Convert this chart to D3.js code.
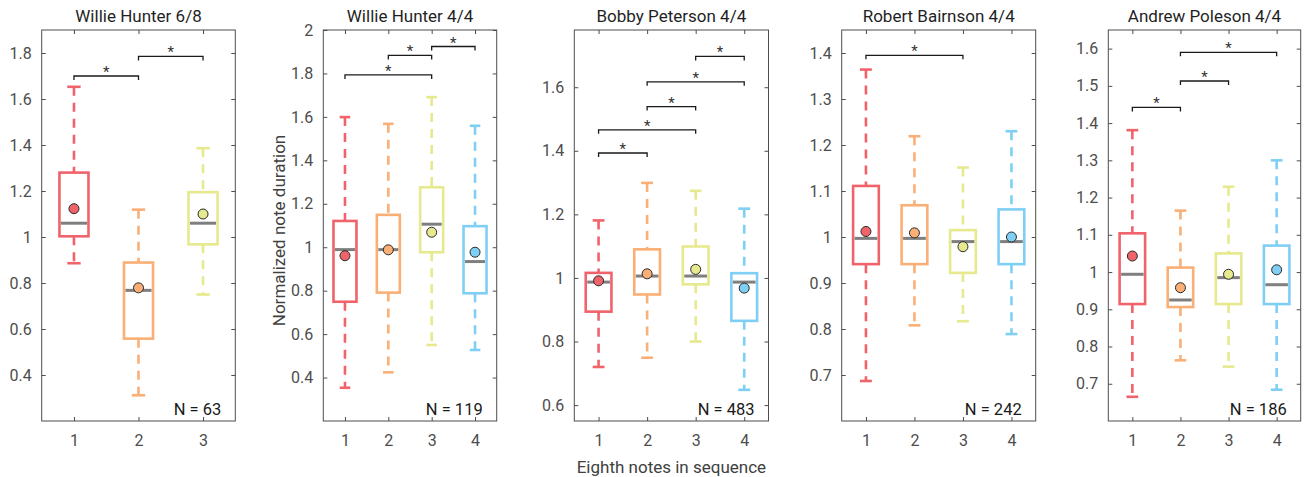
<!DOCTYPE html>
<html>
<head>
<meta charset="utf-8">
<script src="https://cdn.jsdelivr.net/npm/d3@7"></script>
<style>
  html, body { margin: 0; padding: 0; background: #ffffff; }
  svg { display: block; }
  text { font-family: Roboto, "Open Sans", sans-serif; }
</style>
</head>
<body>
<svg id="chart" width="1305" height="477"></svg>
<script>
// ---------------- DATA ----------------
const titles = ["Willie Hunter 6/8", "Willie Hunter 4/4", "Bobby Peterson 4/4", "Robert Bairnson 4/4", "Andrew Poleson 4/4"];
const nCounts = [63, 119, 483, 242, 186];
const categories = [[1, 2, 3], [1, 2, 3, 4], [1, 2, 3, 4], [1, 2, 3, 4], [1, 2, 3, 4]];
const yDomains = [[0.2, 1.9], [0.2, 2.0], [0.55, 1.78], [0.6, 1.45], [0.6, 1.65]];
const yTickValues = [
  [0.4, 0.6, 0.8, 1.0, 1.2, 1.4, 1.6, 1.8],
  [0.4, 0.6, 0.8, 1.0, 1.2, 1.4, 1.6, 1.8, 2.0],
  [0.6, 0.8, 1.0, 1.2, 1.4, 1.6],
  [0.7, 0.8, 0.9, 1.0, 1.1, 1.2, 1.3, 1.4],
  [0.7, 0.8, 0.9, 1.0, 1.1, 1.2, 1.3, 1.4, 1.5, 1.6]
];
const whiskerLow = [
  [0.886, 0.312, 0.750],
  [0.353, 0.424, 0.550, 0.527],
  [0.720, 0.749, 0.800, 0.648],
  [0.687, 0.808, 0.817, 0.789],
  [0.665, 0.763, 0.746, 0.684]
];
const q1 = [
  [1.003, 0.558, 0.968],
  [0.749, 0.791, 0.977, 0.788],
  [0.894, 0.948, 0.980, 0.865],
  [0.941, 0.941, 0.922, 0.941],
  [0.914, 0.906, 0.914, 0.914]
];
const medians = [
  [1.060, 0.768, 1.060],
  [0.989, 0.989, 1.106, 0.934],
  [0.987, 1.006, 1.006, 0.987],
  [0.997, 0.997, 0.990, 0.990],
  [0.994, 0.925, 0.985, 0.966]
];
const q3 = [
  [1.280, 0.889, 1.195],
  [1.121, 1.149, 1.276, 1.097],
  [1.016, 1.090, 1.099, 1.015],
  [1.111, 1.069, 1.015, 1.060],
  [1.104, 1.012, 1.050, 1.071]
];
const whiskerHigh = [
  [1.653, 1.119, 1.386],
  [1.599, 1.568, 1.691, 1.559],
  [1.181, 1.299, 1.274, 1.218],
  [1.364, 1.219, 1.151, 1.230],
  [1.381, 1.165, 1.229, 1.300]
];
const means = [
  [1.123, 0.779, 1.100],
  [0.961, 0.988, 1.069, 0.977],
  [0.991, 1.013, 1.027, 0.968],
  [1.012, 1.009, 0.979, 1.000],
  [1.043, 0.958, 0.994, 1.006]
];
const sigPairs = [
  [[1, 2], [2, 3]],
  [[1, 3], [2, 3], [3, 4]],
  [[1, 2], [1, 3], [2, 3], [2, 4], [3, 4]],
  [[1, 3]],
  [[1, 2], [2, 3], [2, 4]]
];
const sigLevels = [
  [1.700, 1.785],
  [1.793, 1.883, 1.924],
  [1.393, 1.466, 1.539, 1.617, 1.697],
  [1.395],
  [1.442, 1.513, 1.590]
];
const yLabel = "Normalized note duration";
const xLabel = "Eighth notes in sequence";

// ---------------- LAYOUT / STYLE ----------------
const colors = ["#f0636b", "#f9af75", "#e6e98e", "#7fcff5"];
const panelX = [[41.7, 235.3], [323.3, 496.7], [574.3, 768.5], [841.7, 1035.7], [1108.3, 1300.7]];
const boxFrac = [0.45, 0.53, 0.53, 0.53, 0.53];
const plotTop = 30, plotBottom = 421;
const axisColor = "#4d4d4d";
const tickTextColor = "#4d4d4d";

const svg = d3.select("#chart");

titles.forEach((title, p) => {
  const cats = categories[p];
  const x = d3.scaleLinear().domain([0.5, cats.length + 0.5]).range(panelX[p]);
  const y = d3.scaleLinear().domain(yDomains[p]).range([plotBottom, plotTop]);
  const g = svg.append("g");
  const unit = x(2) - x(1);
  const bw = unit * boxFrac[p];
  const capW = bw * 0.46;

  // boxplots
  cats.forEach((c, i) => {
    const cx = x(c);
    const col = colors[i];
    // whiskers (dashed)
    g.append("line").attr("x1", cx).attr("x2", cx)
      .attr("y1", y(whiskerHigh[p][i])).attr("y2", y(q3[p][i]))
      .attr("stroke", col).attr("stroke-width", 2.6).attr("stroke-dasharray", "9,7");
    g.append("line").attr("x1", cx).attr("x2", cx)
      .attr("y1", y(q1[p][i])).attr("y2", y(whiskerLow[p][i]))
      .attr("stroke", col).attr("stroke-width", 2.6).attr("stroke-dasharray", "9,7");
    // caps
    [whiskerHigh[p][i], whiskerLow[p][i]].forEach(v => {
      g.append("line").attr("x1", cx - capW / 2).attr("x2", cx + capW / 2)
        .attr("y1", y(v)).attr("y2", y(v))
        .attr("stroke", col).attr("stroke-width", 2.6);
    });
    // box
    g.append("rect").attr("x", cx - bw / 2).attr("width", bw)
      .attr("y", y(q3[p][i])).attr("height", y(q1[p][i]) - y(q3[p][i]))
      .attr("fill", "none").attr("stroke", col).attr("stroke-width", 2.6);
    // median
    g.append("line").attr("x1", cx - bw / 2 + 1.5).attr("x2", cx + bw / 2 - 1.5)
      .attr("y1", y(medians[p][i])).attr("y2", y(medians[p][i]))
      .attr("stroke", "#7f7f7f").attr("stroke-width", 3);
    // mean
    g.append("circle").attr("cx", cx).attr("cy", y(means[p][i])).attr("r", 5)
      .attr("fill", col).attr("stroke", "#2a2a2a").attr("stroke-width", 1);
  });

  // axes frame
  const [x0, x1] = panelX[p];
  g.append("rect").attr("x", x0).attr("y", plotTop).attr("width", x1 - x0).attr("height", plotBottom - plotTop)
    .attr("fill", "none").attr("stroke", axisColor).attr("stroke-width", 1);

  // y axis left (inward ticks)
  const yAxisL = d3.axisLeft(y).tickValues(yTickValues[p]).tickSizeInner(-4).tickSizeOuter(0).tickPadding(10)
    .tickFormat(d3.format("~g"));
  const gl = g.append("g").attr("transform", `translate(${x0},0)`).call(yAxisL);
  gl.select(".domain").remove();
  gl.selectAll(".tick line").attr("stroke", axisColor);
  gl.selectAll(".tick text").attr("fill", tickTextColor).style("font-size", "16px")
    .style("font-family", "Roboto, sans-serif");
  // y axis right
  const yAxisR = d3.axisRight(y).tickValues(yTickValues[p]).tickSizeInner(-4).tickSizeOuter(0).tickFormat("");
  const gr = g.append("g").attr("transform", `translate(${x1},0)`).call(yAxisR);
  gr.select(".domain").remove();
  gr.selectAll(".tick line").attr("stroke", axisColor);

  // x axis bottom
  const xAxisB = d3.axisBottom(x).tickValues(cats).tickSizeInner(-4).tickSizeOuter(0).tickPadding(14)
    .tickFormat(d3.format("d"));
  const gb = g.append("g").attr("transform", `translate(0,${plotBottom})`).call(xAxisB);
  gb.select(".domain").remove();
  gb.selectAll(".tick line").attr("stroke", axisColor);
  gb.selectAll(".tick text").attr("fill", tickTextColor).style("font-size", "16px")
    .style("font-family", "Roboto, sans-serif");
  // x axis top
  const xAxisT = d3.axisTop(x).tickValues(cats).tickSizeInner(-4).tickSizeOuter(0).tickFormat("");
  const gt = g.append("g").attr("transform", `translate(0,${plotTop})`).call(xAxisT);
  gt.select(".domain").remove();
  gt.selectAll(".tick line").attr("stroke", axisColor);

  // significance brackets
  sigPairs[p].forEach((pair, k) => {
    const yy = y(sigLevels[p][k]);
    const xa = x(pair[0]), xb = x(pair[1]);
    g.append("path")
      .attr("d", `M${xa},${yy + 4}V${yy}H${xb}V${yy + 4}`)
      .attr("fill", "none").attr("stroke", "#1a1a1a").attr("stroke-width", 1.3);
    g.append("text").attr("x", (xa + xb) / 2).attr("y", yy + 1)
      .attr("text-anchor", "middle").attr("fill", "#333")
      .style("font-size", "15px").text("*");
  });

  // title
  g.append("text").attr("x", (x0 + x1) / 2).attr("y", 22)
    .attr("text-anchor", "middle").attr("fill", "#1f1f1f")
    .style("font-size", "17px").text(title);

  // N label
  g.append("text").attr("x", x1 - 14).attr("y", 415)
    .attr("text-anchor", "end").attr("fill", "#1a1a1a")
    .style("font-size", "16.5px").text(`N = ${nCounts[p]}`);
});

// shared labels
{
  const [x0, x1] = panelX[1];
  svg.append("text")
    .attr("transform", `translate(${x0 - 38},${(plotTop + plotBottom) / 2 + 5}) rotate(-90)`)
    .attr("text-anchor", "middle").attr("fill", "#404040")
    .style("font-size", "17px").text(yLabel);
}
{
  const [x0, x1] = panelX[2];
  svg.append("text")
    .attr("x", (x0 + x1) / 2).attr("y", 473)
    .attr("text-anchor", "middle").attr("fill", "#404040")
    .style("font-size", "17px").text(xLabel);
}
</script>
</body>
</html>
